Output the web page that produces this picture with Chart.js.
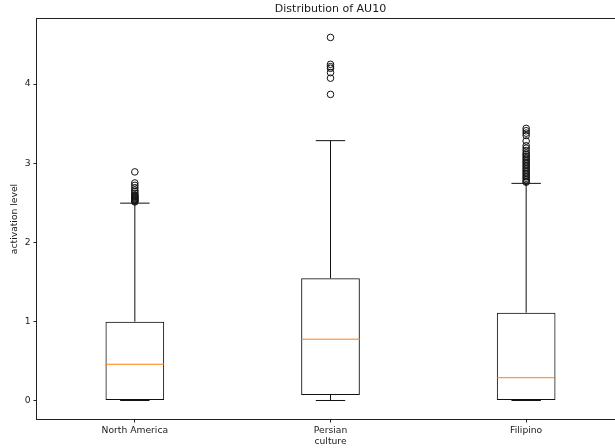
<!DOCTYPE html>
<html>
<head>
<meta charset="utf-8">
<script src="https://cdn.jsdelivr.net/npm/chart.js@4/dist/chart.umd.min.js"></script>
<style>
  html, body { margin: 0; padding: 0; background: #fff; overflow: hidden; width: 615px; height: 448px; }
  #wrap { width: 640px; height: 448px; }
</style>
</head>
<body>
<div id="wrap"><canvas id="c" width="640" height="448"></canvas></div>
<script>
// ---- data ----
const categories = ['North America', 'Persian', 'Filipino'];
const q1 = [0.0, 0.07, 0.0];
const medians = [0.458, 0.775, 0.288];
const q3 = [0.997, 1.545, 1.11];
const whiskerLow = [0.0, 0.0, 0.0];
const whiskerHigh = [2.495, 3.285, 2.745];
const outliersNorthAmerica = [2.89, 2.75, 2.72, 2.69, 2.66, 2.64, 2.62, 2.60, 2.59, 2.58, 2.57, 2.56, 2.55, 2.54, 2.53, 2.52, 2.51];
const outliersPersian = [4.59, 4.25, 4.22, 4.20, 4.145, 4.075, 3.87];
const outliersFilipino = [3.44, 3.41, 3.38, 3.35, 3.28, 3.22, 3.19, 3.16, 3.13, 3.11, 3.09, 3.07, 3.05, 3.03, 3.01, 2.99, 2.97, 2.95, 2.93, 2.91, 2.89, 2.87, 2.85, 2.83, 2.81, 2.79, 2.77, 2.76];
const yTicks = [0, 1, 2, 3, 4];
const yMin = -0.234, yMax = 4.823;

const outlierSets = [outliersNorthAmerica, outliersPersian, outliersFilipino];

// build library datasets from the arrays
const boxData = categories.map((c, i) => [q1[i], q3[i]]);
const whiskerData = [];
categories.forEach((c, i) => {
  whiskerData.push({x: c, y: q3[i]}, {x: c, y: whiskerHigh[i]}, {x: c, y: null});
  whiskerData.push({x: c, y: q1[i]}, {x: c, y: whiskerLow[i]}, {x: c, y: null});
});
const capData = [];
categories.forEach((c, i) => {
  capData.push({x: c, y: whiskerLow[i]}, {x: c, y: whiskerHigh[i]});
});
const medianData = categories.map((c, i) => ({x: c, y: medians[i]}));
const outlierData = [];
categories.forEach((c, i) => outlierSets[i].forEach(v => outlierData.push({x: c, y: v})));

const FONT = 'DejaVu Sans';
const TXT = '#1a1a1a';

const framePlugin = {
  id: 'frame',
  afterDraw(chart) {
    const a = chart.chartArea, ctx = chart.ctx;
    ctx.save();
    ctx.strokeStyle = '#222';
    ctx.lineWidth = 1;
    ctx.strokeRect(Math.round(a.left) - 0.5, Math.round(a.top) - 0.5,
                   Math.round(a.right - a.left) + 1, Math.round(a.bottom - a.top) + 1);
    ctx.restore();
  }
};

new Chart(document.getElementById('c'), {
  type: 'bar',
  data: {
    labels: categories,
    datasets: [
      {
        type: 'bar', label: 'box', data: boxData,
        backgroundColor: 'rgba(0,0,0,0)', borderColor: '#111', borderWidth: 1,
        borderSkipped: false, barPercentage: 0.3, categoryPercentage: 1.0, order: 5
      },
      {
        type: 'line', label: 'whiskers', data: whiskerData,
        borderColor: '#111', borderWidth: 1, pointRadius: 0, spanGaps: false, fill: false, order: 4
      },
      {
        type: 'line', label: 'caps', data: capData, showLine: false,
        pointStyle: 'line', pointRadius: 14.7, pointBorderColor: '#111', pointBorderWidth: 1, order: 3
      },
      {
        type: 'line', label: 'medians', data: medianData, showLine: false,
        pointStyle: 'line', pointRadius: 29.3, pointBorderColor: '#ff7f0e', pointBorderWidth: 1, order: 2
      },
      {
        type: 'line', label: 'outliers', data: outlierData, showLine: false,
        pointStyle: 'circle', pointRadius: 3.3, pointBorderColor: '#111', pointBorderWidth: 1,
        pointBackgroundColor: 'rgba(0,0,0,0)', order: 1
      }
    ]
  },
  options: {
    responsive: false,
    animation: false,
    events: [],
    layout: { autoPadding: false, padding: { left: 0, right: 16, top: 0, bottom: 0 } },
    plugins: {
      legend: { display: false },
      tooltip: { enabled: false },
      title: {
        display: true, text: 'Distribution of AU10', fullSize: false,
        color: TXT, font: { family: FONT, size: 11, weight: 'normal', lineHeight: 1.2 },
        padding: { top: 3, bottom: 2.8 }
      }
    },
    scales: {
      x: {
        type: 'category',
        offset: true,
        grid: { display: true, drawOnChartArea: false, drawTicks: true, tickLength: 3.5, offset: false, color: '#222', lineWidth: 1 },
        border: { display: false },
        ticks: { color: TXT, font: { family: FONT, size: 9.2 }, padding: 3, maxRotation: 0 },
        title: { display: true, text: 'culture', color: TXT, font: { family: FONT, size: 9.2 }, padding: { top: 0, bottom: 0.5 } },
        afterFit(s) { s.height = 29; }
      },
      y: {
        type: 'linear',
        min: yMin, max: yMax,
        grid: { display: true, drawOnChartArea: false, drawTicks: true, tickLength: 3.5, color: '#222', lineWidth: 1 },
        border: { display: false },
        afterBuildTicks(s) { s.ticks = yTicks.map(v => ({value: v})); },
        ticks: { color: TXT, font: { family: FONT, size: 9.2 }, padding: 3 },
        title: { display: true, text: 'activation level', color: TXT, font: { family: FONT, size: 9.2 }, padding: { top: 9.5, bottom: 0 } },
        afterFit(s) { s.width = 37; }
      }
    }
  },
  plugins: [framePlugin]
});
</script>
</body>
</html>
